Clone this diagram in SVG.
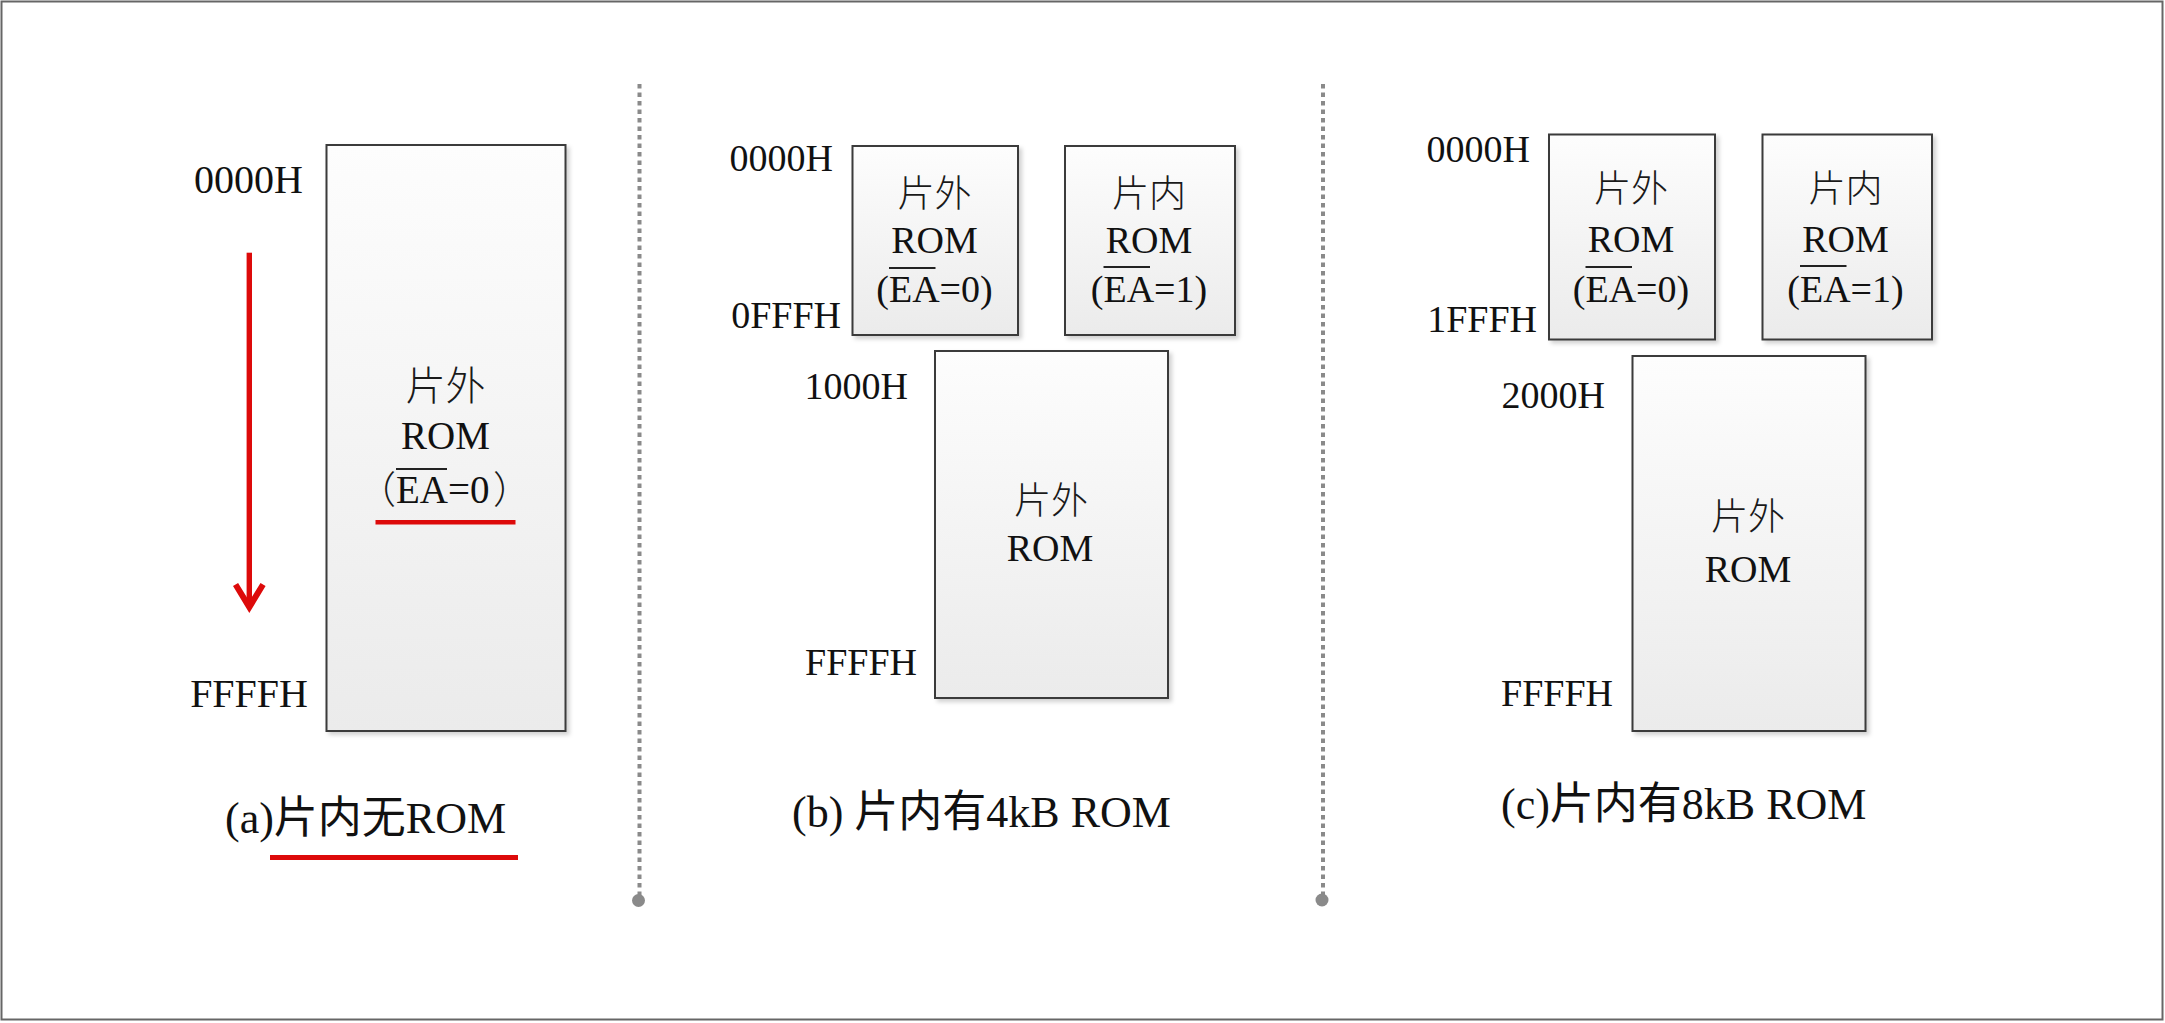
<svg xmlns="http://www.w3.org/2000/svg" width="2165" height="1023" viewBox="0 0 2165 1023">
<defs>
<linearGradient id="boxfill" x1="0" y1="0" x2="0" y2="1">
<stop offset="0" stop-color="#fdfdfd"/>
<stop offset="1" stop-color="#ebebeb"/>
</linearGradient>
<filter id="shadow" x="-10%" y="-10%" width="130%" height="130%">
<feDropShadow dx="3" dy="3" stdDeviation="2" flood-color="#000" flood-opacity="0.18"/>
</filter>
<style>
.box{fill:url(#boxfill);stroke:#3a3a3a;stroke-width:2;filter:url(#shadow)}
.lat{font-family:"Liberation Serif","Times New Roman",serif;fill:#111}
.cjk{font-family:"Noto Sans CJK SC",sans-serif;fill:#1a1a1a;font-weight:300}
.cap{font-family:"Liberation Serif","Noto Sans CJK SC",serif;fill:#111;font-size:44px}
.lab{font-size:38px;text-anchor:end}
.labA{font-size:40px;text-anchor:end}
.mid{text-anchor:middle}
.ov{stroke:#222;stroke-width:2}
.sep{stroke:#8a8a8a;stroke-width:4;stroke-dasharray:4.5 4;fill:none}
.dot{fill:#8a8a8a}
.red{fill:#dd0a0a}
</style>
</defs>
<rect x="0" y="0" width="2165" height="1023" fill="#fff"/>
<rect x="1.5" y="1.5" width="2161" height="1018" fill="none" stroke="#666" stroke-width="2"/>

<!-- Panel (a) -->
<g id="a-labels">
<text class="lat labA" x="303" y="193">0000H</text>
<text class="lat labA" x="308" y="707">FFFFH</text>
</g>
<g id="a-rom">
<rect class="box" x="326.5" y="145" width="239" height="586"/>
<text class="cjk mid" x="445.5" y="400" font-size="40">片外</text>
<text class="lat mid" x="445.5" y="449" font-size="39">ROM</text>
<text class="cjk" x="396" y="503" font-size="38" text-anchor="end">（</text>
<text class="lat" x="396" y="503" font-size="39">EA=0</text>
<text class="cjk" x="493" y="503" font-size="38">）</text>
<line class="ov" x1="396" y1="469" x2="447" y2="469"/>
<rect class="red" x="375.5" y="520" width="140" height="4.5"/>
</g>
<g id="a-caption">
<text class="cap" x="225" y="833">(a)片内无ROM</text>
<rect class="red" x="270" y="855" width="248" height="5"/>
</g>

<!-- Panel (b) -->
<g id="b-labels">
<text class="lat lab" x="833" y="171">0000H</text>
<text class="lat lab" x="841" y="328">0FFFH</text>
<text class="lat lab" x="908" y="399">1000H</text>
<text class="lat lab" x="917" y="675">FFFFH</text>
</g>
<g id="b-ext-rom-low">
<rect class="box" x="852.5" y="146" width="165.5" height="189"/>
<text class="cjk mid" x="934.5" y="207" font-size="37">片外</text>
<text class="lat mid" x="934.5" y="253" font-size="38">ROM</text>
<text class="lat mid" x="934.5" y="301.5" font-size="38">(EA=0)</text>
<line class="ov" x1="889" y1="268" x2="935.5" y2="268"/>
</g>
<g id="b-int-rom">
<rect class="box" x="1065" y="146" width="170" height="189"/>
<text class="cjk mid" x="1149" y="207" font-size="37">片内</text>
<text class="lat mid" x="1149" y="253" font-size="38">ROM</text>
<text class="lat mid" x="1149" y="301.5" font-size="38">(EA=1)</text>
<line class="ov" x1="1103.5" y1="267" x2="1150" y2="267"/>
</g>
<g id="b-ext-rom">
<rect class="box" x="935" y="351" width="233" height="347"/>
<text class="cjk mid" x="1051" y="514" font-size="37">片外</text>
<text class="lat mid" x="1050" y="561" font-size="38">ROM</text>
</g>
<g id="b-caption">
<text class="cap" x="792" y="827">(b) 片内有4kB ROM</text>
</g>

<!-- Panel (c) -->
<g id="c-labels">
<text class="lat lab" x="1530" y="162">0000H</text>
<text class="lat lab" x="1537" y="332">1FFFH</text>
<text class="lat lab" x="1605" y="408">2000H</text>
<text class="lat lab" x="1613" y="706">FFFFH</text>
</g>
<g id="c-ext-rom-low">
<rect class="box" x="1549" y="134.5" width="166" height="205"/>
<text class="cjk mid" x="1631" y="202" font-size="37">片外</text>
<text class="lat mid" x="1631" y="252" font-size="38">ROM</text>
<text class="lat mid" x="1631" y="302" font-size="38">(EA=0)</text>
<line class="ov" x1="1585.5" y1="267" x2="1632" y2="267"/>
</g>
<g id="c-int-rom">
<rect class="box" x="1762.5" y="134.5" width="169.5" height="205"/>
<text class="cjk mid" x="1845.5" y="202" font-size="37">片内</text>
<text class="lat mid" x="1845.5" y="252" font-size="38">ROM</text>
<text class="lat mid" x="1845.5" y="302" font-size="38">(EA=1)</text>
<line class="ov" x1="1800" y1="266" x2="1846.5" y2="266"/>
</g>
<g id="c-ext-rom">
<rect class="box" x="1632.5" y="356" width="233" height="375"/>
<text class="cjk mid" x="1748" y="530" font-size="37">片外</text>
<text class="lat mid" x="1748" y="582" font-size="38">ROM</text>
</g>
<g id="c-caption">
<text class="cap" x="1501" y="819">(c)片内有8kB ROM</text>
</g>

<!-- Connectors / separators -->
<g id="connectors">
<rect class="red" x="246.6" y="252.7" width="5.4" height="352"/>
<polygon class="red" points="233,586 249.3,613 265.6,586 260.5,582.9 249.3,601.3 238.1,582.9"/>
<line class="sep" x1="639.5" y1="84" x2="639.5" y2="895"/>
<circle class="dot" cx="638.5" cy="900.5" r="6.5"/>
<line class="sep" x1="1323" y1="84" x2="1323" y2="895"/>
<circle class="dot" cx="1322" cy="900" r="6.5"/>
</g>
</svg>
